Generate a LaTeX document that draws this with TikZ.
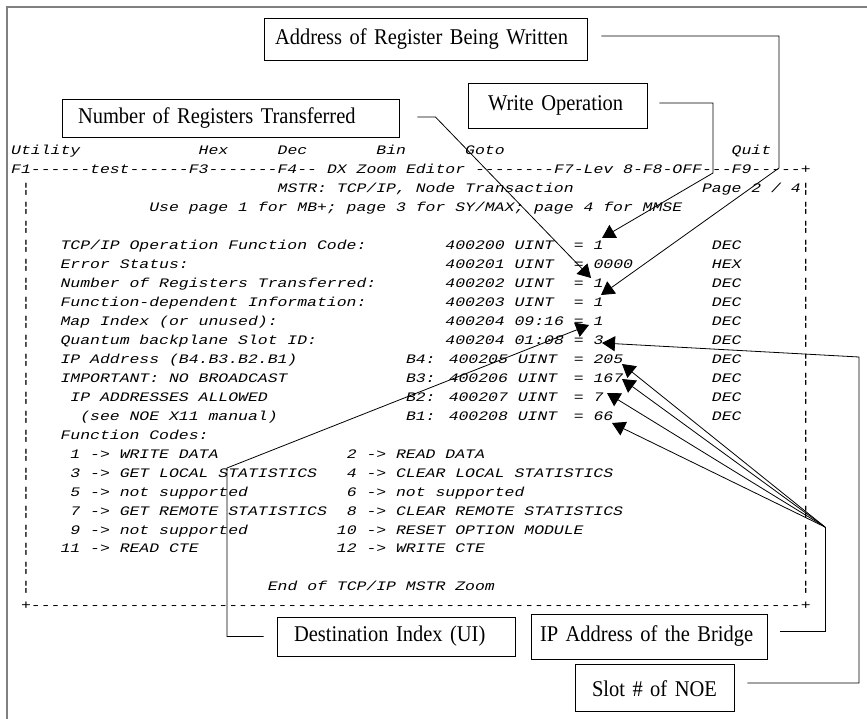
\documentclass[tikz,border=0pt]{standalone}
\usepackage{fontspec}
\setmainfont{Liberation Serif}
\newfontfamily\calfont[FakeStretch=0.91]{Liberation Serif}
\newfontfamily\scrfont[FakeStretch=1.265]{Liberation Mono}
\usetikzlibrary{positioning,arrows.meta}

\tikzset{
  callout/.style={rectangle, draw=black, line width=0.9pt, align=left,
    inner xsep=17pt, inner ysep=0pt, font=\calfont\fontsize{22.5}{26}\selectfont},
  scr/.style={anchor=base west, inner sep=0pt,
    font=\scrfont\itshape\fontsize{13}{15}\selectfont},
  pline/.style={-{Triangle[length=13pt,width=15pt]}, line width=0.8pt},
  bline/.style={-, line width=0.8pt}
}

\begin{document}
\begin{tikzpicture}[x=1pt, y=-1pt]
\useasboundingbox (0,0) rectangle (867,719);
\draw[black!50, line width=1.6pt] (7,719) -- (7,7) -- (867,7);

% screen text on a row/column grid
\foreach \rw/\cl/\txt [count=\k] in {
  0/0/Utility, 0/19/Hex, 0/27/Dec, 0/37/Bin, 0/46/Goto, 0/73/Quit,
  1/0/{F1------test------F3-------F4--}, 1/32/DX, 1/35/Zoom, 1/40/Editor,
  1/47/{--------F7-Lev}, 1/62/{8-F8-OFF---F9-----+},
  2/27/{MSTR: TCP/IP, Node Transaction}, 2/70/{Page 2 / 4},
  3/14/{Use page 1 for MB+; page 3 for SY/MAX; page 4 for MMSE},
  5/5/{TCP/IP Operation Function Code:}, 5/44/{400200 UINT}, 5/57/{= 1}, 5/71/DEC,
  6/5/{Error Status:}, 6/44/{400201 UINT}, 6/57/{= 0000}, 6/71/HEX,
  7/5/{Number of Registers Transferred:}, 7/44/{400202 UINT}, 7/57/{= 1}, 7/71/DEC,
  8/5/{Function-dependent Information:}, 8/44/{400203 UINT}, 8/57/{= 1}, 8/71/DEC,
  9/5/{Map Index (or unused):}, 9/44/{400204 09:16}, 9/57/{= 1}, 9/71/DEC,
  10/5/{Quantum backplane Slot ID:}, 10/44/{400204 01:08}, 10/57/{= 3}, 10/71/DEC,
  11/5/{IP Address (B4.B3.B2.B1)}, 11/40/{B4: 400205 UINT}, 11/57/{= 205}, 11/71/DEC,
  12/5/{IMPORTANT: NO BROADCAST}, 12/40/{B3: 400206 UINT}, 12/57/{= 167}, 12/71/DEC,
  13/6/{IP ADDRESSES ALLOWED}, 13/40/{B2: 400207 UINT}, 13/57/{= 7}, 13/71/DEC,
  14/7/{(see NOE X11 manual)}, 14/40/{B1: 400208 UINT}, 14/57/{= 66}, 14/71/DEC,
  15/5/{Function Codes:},
  16/6/{1 -> WRITE DATA}, 16/34/{2 -> READ DATA},
  17/6/{3 -> GET LOCAL STATISTICS}, 17/34/{4 -> CLEAR LOCAL STATISTICS},
  18/6/{5 -> not supported}, 18/34/{6 -> not supported},
  19/6/{7 -> GET REMOTE STATISTICS}, 19/34/{8 -> CLEAR REMOTE STATISTICS},
  20/6/{9 -> not supported}, 20/33/{10 -> RESET OPTION MODULE},
  21/5/{11 -> READ CTE}, 21/33/{12 -> WRITE CTE},
  23/26/{End of TCP/IP MSTR Zoom},
  24/1/+, 24/2/{------------------------------------------------------------------------------}, 24/80/+}
  \node[scr] (t\k) at ({11+9.87*\cl},{155+18.95*\rw}) {\txt};
\foreach \rw in {2,...,23}{
  \node[scr] (lb\rw) at ({11+9.87},{155+18.95*\rw}) {¦};
  \node[scr] (rb\rw) at ({11+9.87*80},{155+18.95*\rw}) {¦};
}

% callouts
\node (ADDR) [callout, minimum height=42pt, inner xsep=11pt, text width=301pt] at (425.5,39) {Address of Register Being Written};
\node (WOP) [callout, minimum height=45pt, inner xsep=20pt, text width=139pt] at (557.5,105.5) {Write Operation};
\node (NREG) [callout, minimum height=38pt, inner xsep=16pt, text width=305pt] at (230.5,118) {Number of Registers Transferred};
\node (IPB) [callout, minimum height=45pt, inner xsep=9pt, text width=218pt] at (649,636.5) {IP Address of the Bridge};
\node (DIDX) [callout, minimum height=39pt, text width=204pt, left=15pt of IPB] {Destination Index (UI)};
\node (SLOT) [callout, minimum height=47pt, text width=125pt, below=5pt of IPB, xshift=5.5pt] {Slot \# of NOE};

% arrow ends
\coordinate (wrT) at (602,238);
\coordinate (adT) at (601,295);
\coordinate (nrT) at (591,278);
\coordinate (diT) at (589,325);
\coordinate (slT) at (602,343);
\coordinate (b4T) at (622,364);
\coordinate (b3T) at (622,379);
\coordinate (b2T) at (607,393);
\coordinate (b1T) at (612,423);
\coordinate (fan) at (825,527);

\draw[pline] ([shift={(14,-3)}]ADDR.east) -| (779,168) -- (adT);
\draw[pline] ([shift={(12,-2.5)}]WOP.east) -| (713,173) -- (wrT);
\draw[pline] ([shift={(18,-1)}]NREG.east) -- ++(18,0) -- (nrT);
\draw[pline] ([xshift=-13pt]DIDX.west) -| (227,468) -- (diT);
\draw[bline] ([shift={(13,-5.5)}]IPB.east) -| (fan);
\foreach \p in {b4T,b3T,b2T,b1T} \draw[pline] (fan) -- (\p);
\draw[pline] ([shift={(13,-5.5)}]SLOT.east) -| (859,357) -- (slT);

\end{tikzpicture}
\end{document}
